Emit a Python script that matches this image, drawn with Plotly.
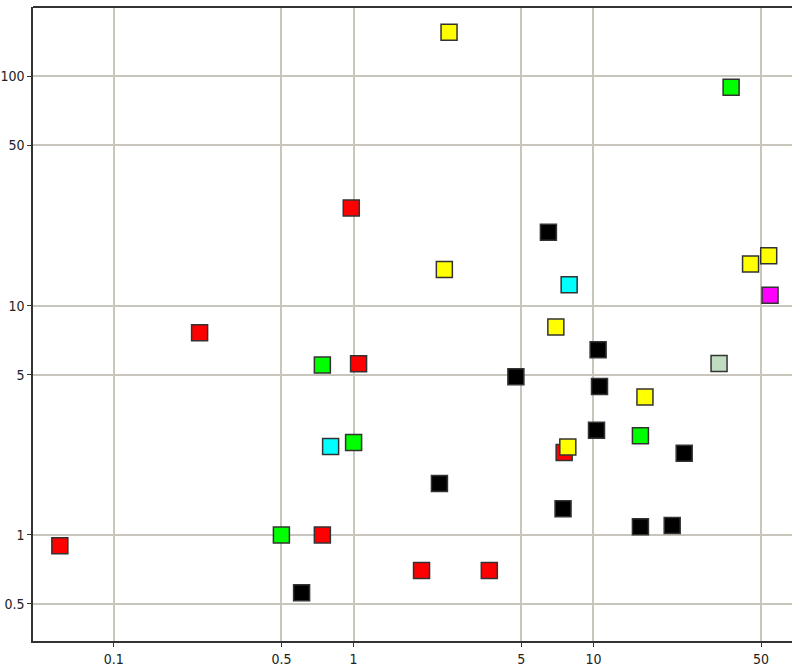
import plotly.graph_objects as go

# Point groups, one list pair per fill colour (x, y on log scales)
red_x = [0.978, 0.228, 0.0596, 0.741, 1.049, 7.55, 1.92, 3.68]
red_y = [26.7, 7.62, 0.898, 1.0, 5.58, 2.29, 0.70, 0.70]

green_x = [0.5, 1.0, 0.741, 37.5, 15.7]
green_y = [1.0, 2.53, 5.51, 89.8, 2.71]

cyan_x = [0.802, 7.92]
cyan_y = [2.43, 12.35]

black_x = [0.607, 2.28, 6.49, 10.46, 4.75, 10.6, 10.3, 23.9, 7.47, 15.7, 21.3]
black_y = [0.56, 1.675, 20.9, 6.43, 4.90, 4.44, 2.86, 2.27, 1.30, 1.087, 1.10]

yellow_x = [2.50, 2.39, 45.2, 53.8, 6.97, 16.4, 7.82]
yellow_y = [156, 14.4, 15.2, 16.5, 8.07, 4.0, 2.42]

magenta_x = [54.5]
magenta_y = [11.1]

sage_x = [33.4]
sage_y = [5.60]

x_ticks = [0.1, 0.5, 1, 5, 10, 50]
x_tick_text = ["0.1", "0.5", "1", "5", "10", "50"]
y_ticks = [0.5, 1, 5, 10, 50, 100]
y_tick_text = ["0.5", "1", "5", "10", "50", "100"]

groups = [
    (red_x, red_y, "#ff0000"),
    (green_x, green_y, "#00ff00"),
    (cyan_x, cyan_y, "#00ffff"),
    (black_x, black_y, "#000000"),
    (yellow_x, yellow_y, "#ffff00"),
    (magenta_x, magenta_y, "#ff00ff"),
    (sage_x, sage_y, "#c0dcc0"),
]

fig = go.Figure()
for gx, gy, color in groups:
    fig.add_trace(go.Scatter(
        x=gx, y=gy, mode="markers",
        marker=dict(symbol="square", size=16, color=color,
                    line=dict(color="#333333", width=1.5)),
        showlegend=False, hoverinfo="x+y",
    ))

axis_common = dict(
    type="log",
    showgrid=True, gridcolor="#c8c5bd", gridwidth=1.5,
    showline=True, linecolor="#333333", linewidth=1.5,
    ticks="outside", ticklen=4, tickcolor="#333333", tickwidth=1,
    tickfont=dict(family="Liberation Sans Narrow, DejaVu Sans Condensed, Arial, sans-serif",
                  size=14, color="#222222"),
    zeroline=False,
)

fig.update_layout(
    width=792, height=666,
    margin=dict(l=33, r=0, t=7, b=25),
    paper_bgcolor="white", plot_bgcolor="white",
    xaxis=dict(axis_common, range=[-1.3367, 1.8279],
               tickvals=x_ticks, ticktext=x_tick_text),
    yaxis=dict(axis_common, range=[-0.4626, 2.303],
               tickvals=y_ticks, ticktext=y_tick_text),
    shapes=[dict(type="line", xref="paper", yref="paper",
                 x0=0, x1=1, y0=1, y1=1,
                 line=dict(color="#333333", width=2))],
)

fig.write_html("out.html")
